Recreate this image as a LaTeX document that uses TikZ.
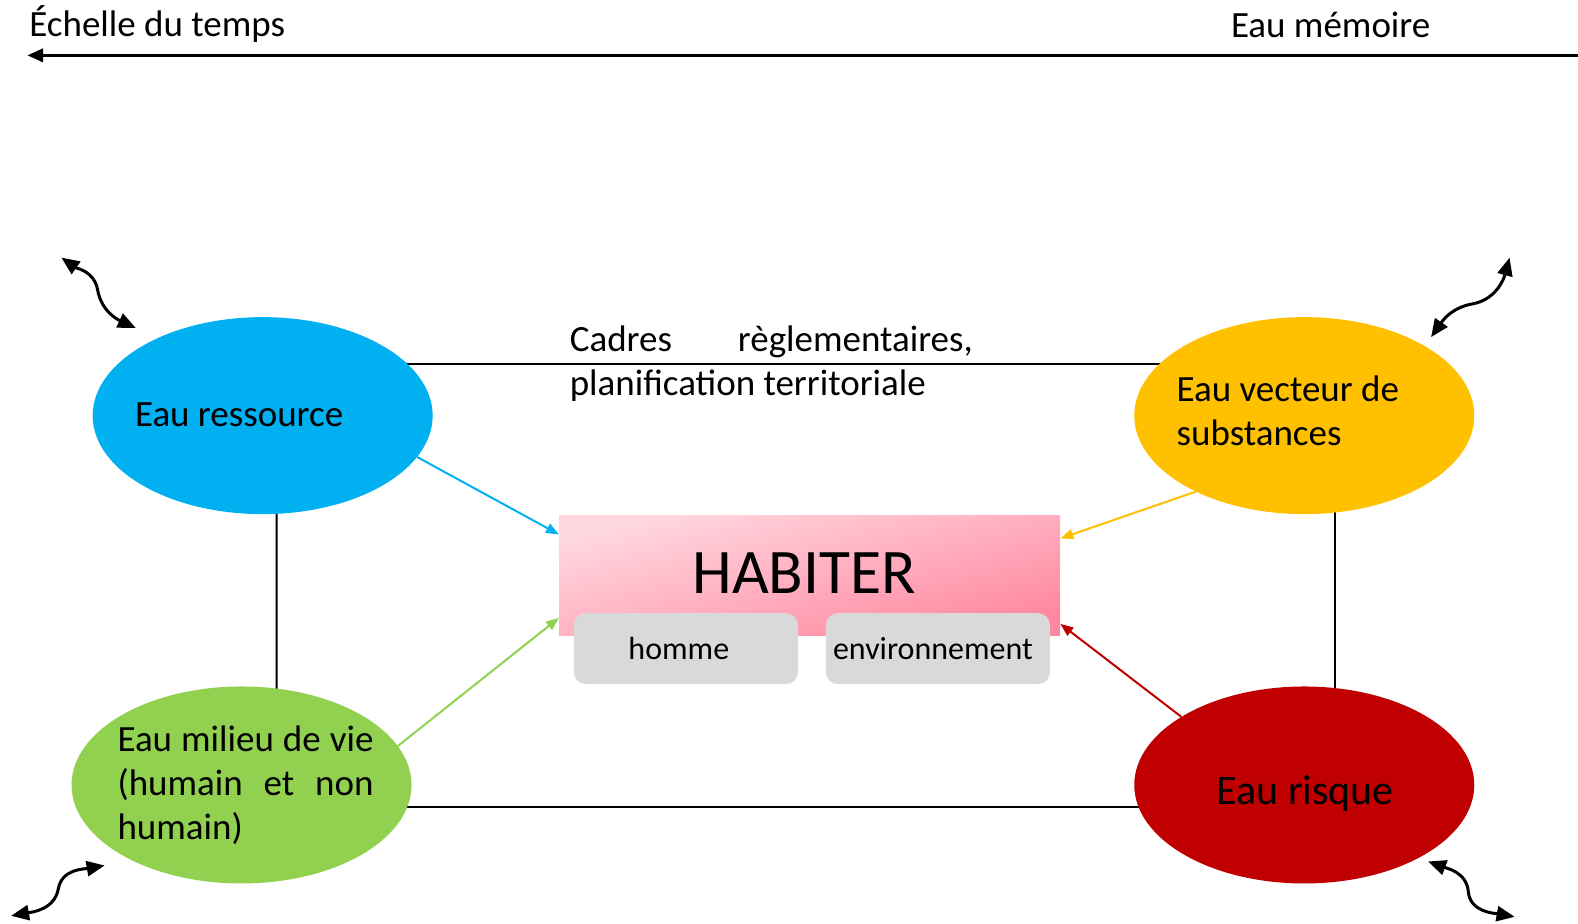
\documentclass[tikz,border=0pt]{standalone}
\usepackage{fontspec}
\setmainfont{Carlito}
\usetikzlibrary{arrows.meta,shapes.geometric,backgrounds}
\definecolor{cblue}{RGB}{0,176,240}
\definecolor{cyellow}{RGB}{255,192,0}
\definecolor{cgreen}{RGB}{146,208,80}
\definecolor{cred}{RGB}{192,0,0}
\definecolor{pinkA}{RGB}{255,216,224}
\definecolor{pinkB}{RGB}{255,136,160}
\definecolor{cgray}{RGB}{217,217,217}
\newcommand\mynohyph{\tolerance 10000 \hyphenpenalty 10000 }
\newcommand\mybig{\fontsize{37}{44}\selectfont}
\begin{document}
\begin{tikzpicture}[x=1.00638pt,y=1.00638pt,
  blob/.style={ellipse, minimum width=340pt, minimum height=197pt, inner sep=0pt},
  lbl/.style={inner sep=0pt, font=\mybig},
  subbox/.style={rounded corners=12pt, fill=cgray, minimum width=224pt, minimum height=71pt, inner sep=0pt, font=\fontsize{32}{38}\selectfont},
  link/.style={line width=2pt},
  feed/.style={line width=2pt, -{Triangle[length=13pt,width=10pt]}},
  swing/.style={line width=3pt, {Triangle[length=18pt,width=15pt]}-{Triangle[length=18pt,width=15pt]}},
]
\useasboundingbox (0,0) rectangle (1568,-918);

% time axis
\coordinate (tr) at (1568,-55);
\coordinate (tl) at (27,-55);
\draw[line width=3.5pt, -{Triangle[length=16pt,width=13pt]}] (tr) -- (tl);
\node[lbl, anchor=base west] (ech) at (29,-36) {Échelle du temps};
\node[lbl, anchor=base west] (mem) at (1223,-37) {Eau mémoire};

% ellipses
\node[blob, fill=cblue] (res) at (261,-413) {};
\node[blob, fill=cyellow] (vec) at (1296,-413) {};
\node[blob, fill=cgreen] (mil) at (240,-780) {};
\node[blob, fill=cred] (risk) at (1296,-780) {};

\begin{pgfonlayer}{background}
\draw[link] ([yshift=52pt]res.center) -- ([yshift=52pt]vec.center);
\draw[link] ([xshift=14pt]res.center) -- ([xshift=35pt]mil.center);
\draw[link] ([xshift=31pt]vec.center) -- ([xshift=31pt]risk.center);
\draw[link] ([yshift=-22pt]mil.center) -- ([yshift=-22pt]risk.center);
\end{pgfonlayer}

\node[lbl, anchor=west] (tres) at (134,-412) {Eau ressource};
\node[lbl, anchor=west, align=left] (tvec) at (1169,-408) {Eau vecteur de\\substances};
\node[lbl, text width=256pt, align=justify] (tmil) at (244,-780) {\mynohyph Eau milieu de vie (humain et non humain)};
\node[lbl, font=\fontsize{42}{50}\selectfont] (trisk) at (1297,-788) {Eau risque};
\node[lbl, anchor=west, text width=403pt, align=justify] (cad) at (566,-361) {\mynohyph Cadres règlementaires, planification territoriale};

% HABITER
\node[minimum width=501pt, minimum height=120pt, inner sep=0pt, top color=pinkA, bottom color=pinkB, shading angle=15] (hab) at (804.5,-572) {};
\node[inner sep=0pt, font=\fontsize{63.5}{70}\selectfont] (habt) at (799,-569) {HABITER};
\node[subbox] (hom) at (681.5,-644.5) {homme\kern14pt\null};
\node[subbox] (env) at (932,-644.5) {environnement\kern10pt\null};

% feeding arrows
\draw[feed, cblue] (res.-15) -- ([yshift=-19pt]hab.north west);
\draw[feed, cyellow] (vec.-145) -- ([yshift=-23pt]hab.north east);
\draw[feed, cgreen] (mil.14) -- ([yshift=18pt]hab.south west);
\draw[feed, cred] (risk.151) -- ([yshift=12pt]hab.south east);

% swinging double arrows
\coordinate (s1a) at (61,-256);
\coordinate (s1m) at (97,-288);
\coordinate (s1b) at (135,-326);
\draw[swing] (s1a) to[out=-35,in=100] (s1m) to[out=-80,in=155] (s1b);
\coordinate (s2a) at (1422,-335);
\coordinate (s2m) at (1463,-302);
\coordinate (s2b) at (1500,-256);
\draw[swing] (s2a) to[out=55,in=190] (s2m) to[out=10,in=-105] (s2b);
\coordinate (s3a) at (11,-910);
\coordinate (s3m) at (58,-883);
\coordinate (s3b) at (104,-860);
\draw[swing] (s3a) to[out=10,in=-100] (s3m) to[out=80,in=190] (s3b);
\coordinate (s4a) at (1419,-856);
\coordinate (s4m) at (1459,-886);
\coordinate (s4b) at (1505,-911);
\draw[swing] (s4a) to[out=-20,in=95] (s4m) to[out=-85,in=170] (s4b);
\end{tikzpicture}
\end{document}
